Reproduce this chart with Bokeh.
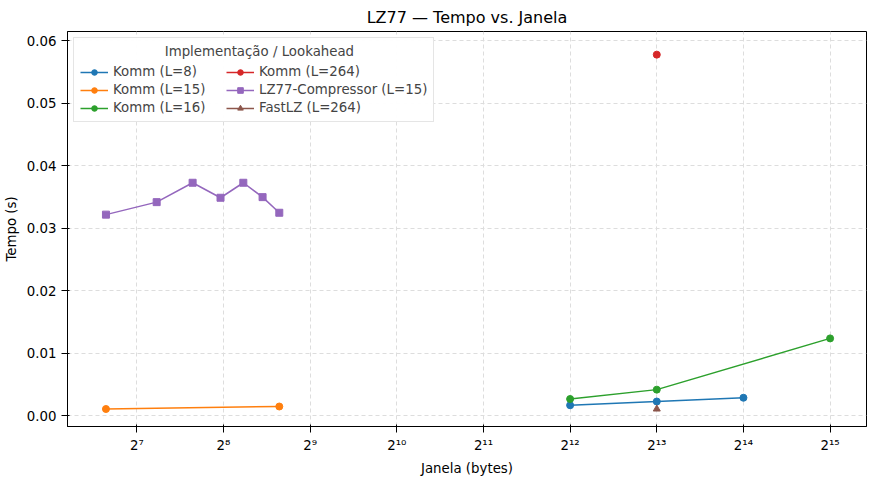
from bokeh.plotting import figure
from bokeh.models import FixedTicker, Legend, LegendItem, Range1d
from bokeh.embed import file_html
from bokeh.resources import INLINE

# data
komm8_x = [4096, 8192, 16384]
komm8_y = [0.0017, 0.0023, 0.0029]
komm15_x = [100, 400]
komm15_y = [0.0011, 0.0015]
komm16_x = [4096, 8192, 32768]
komm16_y = [0.0027, 0.0042, 0.0124]
komm264_x = [8192]
komm264_y = [0.0578]
lzc_x = [100, 150, 200, 250, 300, 350, 400]
lzc_y = [0.0322, 0.0342, 0.0373, 0.0349, 0.0373, 0.0350, 0.0325]
fastlz_x = [8192]
fastlz_y = [0.0011]

tick_vals = [2 ** k for k in range(7, 16)]
sup = str.maketrans("0123456789", "⁰¹²³⁴⁵⁶⁷⁸⁹")
tick_labels = {v: "2" + str(k).translate(sup) for k, v in zip(range(7, 16), tick_vals)}

p = figure(width=874, height=478, x_axis_type="log", output_backend="svg",
           toolbar_location=None, title="LZ77 — Tempo vs. Janela",
           x_range=Range1d(2 ** 6.2, 2 ** 15.42), y_range=Range1d(-0.0017, 0.0615),
           min_border_right=8, min_border_bottom=8)
p.title.align = "center"
p.title.text_font_size = "12pt"
p.title.text_font_style = "normal"
p.title.text_font = "DejaVu Sans"
p.title.text_color = "black"

p.xaxis.ticker = FixedTicker(ticks=tick_vals)
p.xaxis.major_label_overrides = tick_labels
p.yaxis.ticker = FixedTicker(ticks=[0, 0.01, 0.02, 0.03, 0.04, 0.05, 0.06])
p.yaxis.major_label_overrides = {0: "0.00", 0.01: "0.01", 0.02: "0.02", 0.03: "0.03",
                                 0.04: "0.04", 0.05: "0.05", 0.06: "0.06"}
p.xaxis.axis_label = "Janela (bytes)"
p.yaxis.axis_label = "Tempo (s)"
for ax in (p.xaxis, p.yaxis):
    ax.axis_label_text_font_style = "normal"
    ax.axis_label_text_font = "DejaVu Sans"
    ax.axis_label_text_font_size = "10pt"
    ax.axis_label_text_color = "black"
    ax.major_label_text_font = "DejaVu Sans"
    ax.major_label_text_font_size = "10pt"
    ax.major_label_text_color = "black"
    ax.minor_tick_line_color = None
    ax.axis_line_color = "black"
    ax.major_tick_line_color = "black"
p.grid.grid_line_dash = "4 3"
p.grid.grid_line_color = "#dddddd"
p.outline_line_color = "black"

items = []
def series(x, y, color, label, marker):
    r = p.line(x, y, line_color=color, line_width=1.5)
    m = p.scatter(x, y, marker=marker, size=7, color=color)
    items.append(LegendItem(label=label, renderers=[r, m]))

series(komm8_x, komm8_y, "#1f77b4", "Komm (L=8)", "circle")
series(komm15_x, komm15_y, "#ff7f0e", "Komm (L=15)", "circle")
series(komm16_x, komm16_y, "#2ca02c", "Komm (L=16)", "circle")
series(komm264_x, komm264_y, "#d62728", "Komm (L=264)", "circle")
series(lzc_x, lzc_y, "#9467bd", "LZ77-Compressor (L=15)", "square")
series(fastlz_x, fastlz_y, "#8c564b", "FastLZ (L=264)", "triangle")

legend = Legend(items=items, location="top_left", ncols=2,
                title="                    Implementação / Lookahead",
                label_text_font_size="10pt", title_text_font_size="10pt",
                title_text_font_style="normal",
                label_text_font="DejaVu Sans", title_text_font="DejaVu Sans",
                border_line_color="#cccccc", spacing=3, padding=6, label_height=14,
                glyph_height=14, glyph_width=28, label_width=110, margin=6)
p.add_layout(legend)

open("out.html", "w").write(file_html(p, INLINE))
